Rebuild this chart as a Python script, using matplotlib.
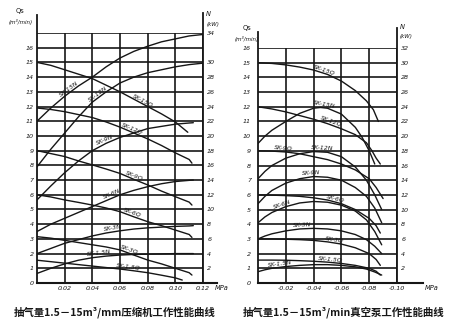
import numpy as np
import matplotlib
matplotlib.use('Agg')
import matplotlib.pyplot as plt

plt.rcParams['font.family'] = ['DejaVu Sans']
INK = '#161616'
CJK = ['Noto Sans CJK SC', 'DejaVu Sans']

# ---------------- compressor panel (left) ----------------
comp_title = '抽气量1.5－15m³/mm压缩机工作性能曲线'
comp_xticks = [0.02, 0.04, 0.06, 0.08, 0.10, 0.12]
comp_xlabels = ['0.02', '0.04', '0.06', '0.08', '0.10', '0.12']
comp_qticks = list(range(0, 18))
comp_qlabels = [str(v) for v in range(0, 17)] + ['']
comp_nticks = [2, 4, 6, 8, 10, 12, 14, 16, 18, 20, 22, 24, 26, 28, 30, 34]

comp_q15_x = [0, .01, .02, .03, .04, .05, .06, .07, .08, .09, .10, .109]
comp_q15 = [15.0, 14.8, 14.5, 14.2, 13.9, 13.45, 13.0, 12.5, 12.0, 11.5, 10.95, 10.25]
comp_q_x = [0, .01, .02, .03, .04, .05, .06, .07, .08, .09, .10, .11, .112]
comp_q12 = [11.9, 11.8, 11.65, 11.45, 11.25, 10.95, 10.6, 10.2, 9.8, 9.35, 8.85, 8.4, 8.15]
comp_q9 = [9.0, 8.8, 8.6, 8.3, 8.03, 7.75, 7.45, 7.05, 6.67, 6.25, 5.87, 5.5, 5.3]
comp_q6 = [6.0, 5.85, 5.65, 5.48, 5.3, 5.1, 4.85, 4.5, 4.17, 3.9, 3.6, 3.3, 3.1]
comp_q3 = [3.15, 3.05, 2.9, 2.75, 2.6, 2.45, 2.25, 1.9, 1.56, 1.3, 1.0, 0.7, 0.54]
comp_q1_x = [0, .01, .02, .03, .04, .05, .06, .07, .08, .09, .10, .105]
comp_q1 = [1.55, 1.45, 1.35, 1.25, 1.15, 1.05, 0.95, 0.83, 0.7, 0.53, 0.35, 0.2]

comp_nl_x = [0, .01, .02, .03, .04, .05, .06, .07, .08, .09, .10, .11, .12]
comp_n15 = [11.0, 11.9, 12.7, 13.4, 14.0, 14.7, 15.3, 15.75, 16.1, 16.4, 16.6, 16.8, 16.9]
comp_n12 = [7.9, 9.1, 10.2, 11.3, 12.3, 13.0, 13.6, 14.0, 14.3, 14.5, 14.7, 14.85, 14.95]
comp_ns_x = [0, .01, .02, .03, .04, .05, .06, .07, .08, .09, .10, .11, .113]
comp_n9 = [5.65, 6.6, 7.5, 8.3, 9.0, 9.5, 9.9, 10.2, 10.5, 10.65, 10.8, 10.88, 10.9]
comp_n6 = [3.5, 4.0, 4.4, 4.8, 5.2, 5.6, 6.0, 6.3, 6.55, 6.75, 6.9, 6.98, 7.0]
comp_n3 = [2.0, 2.35, 2.7, 2.95, 3.2, 3.4, 3.55, 3.67, 3.75, 3.8, 3.85, 3.88, 3.9]
comp_n1 = [0.65, 1.0, 1.3, 1.55, 1.72, 1.83, 1.9, 1.94, 1.96, 1.98, 2.0, 2.0, 2.0]

# ---------------- vacuum pump panel (right) ----------------
vac_title = '抽气量1.5－15m³/min真空泵工作性能曲线'
vac_xticks = [-0.02, -0.04, -0.06, -0.08, -0.10]
vac_xlabels = ['-0.02', '-0.04', '-0.06', '-0.08', '-0.10']
vac_qticks = list(range(0, 17))
vac_nticks = list(range(2, 34, 2))

vac_q15_x = [0, -.01, -.02, -.03, -.04, -.05, -.06, -.07, -.078, -.083, -.0866]
vac_q15 = [15.0, 14.95, 14.85, 14.7, 14.5, 14.2, 13.75, 13.1, 12.4, 11.8, 11.0]
vac_q12_x = [0, -.01, -.02, -.03, -.04, -.05, -.06, -.07, -.078, -.082, -.085, -.088]
vac_q12 = [12.0, 11.85, 11.65, 11.4, 11.15, 10.85, 10.5, 10.1, 9.55, 9.0, 8.5, 8.1]
vac_n15_x = [0, -.005, -.01, -.02, -.03, -.04, -.045, -.05, -.06, -.07, -.075, -.08, -.084]
vac_n15 = [9.5, 10.0, 10.4, 11.0, 11.55, 11.9, 11.95, 11.9, 11.5, 10.6, 9.9, 9.0, 8.1]
vac_q9_x = [0, -.01, -.02, -.03, -.04, -.05, -.06, -.07, -.08, -.085, -.09]
vac_q9 = [9.0, 8.98, 8.92, 8.8, 8.6, 8.4, 8.1, 7.7, 7.1, 6.5, 5.75]
vac_arch_x = [0, -.005, -.01, -.02, -.03, -.04, -.05, -.06, -.07, -.078, -.084, -.089]
vac_n12 = [7.1, 7.6, 8.0, 8.5, 8.8, 8.95, 8.9, 8.6, 7.9, 7.0, 6.0, 5.0]
vac_n9 = [5.4, 5.9, 6.3, 6.8, 7.1, 7.25, 7.2, 7.0, 6.5, 5.9, 5.1, 4.1]
vac_n6 = [4.1, 4.5, 4.8, 5.2, 5.45, 5.55, 5.5, 5.3, 4.9, 4.3, 3.5, 2.6]
vac_n3 = [3.0, 3.2, 3.35, 3.55, 3.68, 3.72, 3.68, 3.55, 3.3, 2.95, 2.5, 2.0]
vac_n1 = [0.77, 0.9, 1.0, 1.12, 1.2, 1.25, 1.25, 1.2, 1.1, 0.95, 0.75, 0.54]
vac_q_x = [0, -.01, -.02, -.03, -.04, -.05, -.06, -.07, -.08, -.085, -.088]
vac_q6 = [6.0, 5.98, 5.95, 5.9, 5.8, 5.65, 5.4, 5.0, 4.4, 3.9, 3.4]
vac_q3 = [3.0, 3.0, 2.98, 2.95, 2.9, 2.8, 2.65, 2.4, 2.0, 1.6, 1.2]
vac_q1 = [1.56, 1.56, 1.55, 1.52, 1.48, 1.42, 1.33, 1.2, 1.0, 0.8, 0.54]

# (x, y, label, where the label sits)
comp_curves = [
    (comp_q15_x, comp_q15, 'SK-15Q', 0.076),
    (comp_q_x, comp_q12, 'SK-12Q', 0.068),
    (comp_q_x, comp_q9, 'SK-9Q', 0.07),
    (comp_q_x, comp_q6, 'SK-6Q', 0.068),
    (comp_q_x, comp_q3, 'SK-3Q', 0.066),
    (comp_q1_x, comp_q1, 'SK-1.5Q', 0.066),
    (comp_nl_x, comp_n15, 'SK-15N', 0.024),
    (comp_nl_x, comp_n12, 'SK-12N', 0.045),
    (comp_ns_x, comp_n9, 'SK-9N', 0.05),
    (comp_ns_x, comp_n6, 'SK-6N', 0.055),
    (comp_ns_x, comp_n3, 'SK-3N', 0.055),
    (comp_ns_x, comp_n1, 'SK-1.5N', 0.045),
]
vac_curves = [
    (vac_q15_x, vac_q15, 'SK-15Q', -0.047),
    (vac_q12_x, vac_q12, 'SK-12Q', -0.052),
    (vac_n15_x, vac_n15, 'SK-15N', -0.047),
    (vac_q9_x, vac_q9, 'SK-9Q', -0.018),
    (vac_arch_x, vac_n12, 'SK-12N', -0.046),
    (vac_arch_x, vac_n9, 'SK-9N', -0.038),
    (vac_q_x, vac_q6, 'SK-6Q', -0.055),
    (vac_arch_x, vac_n6, 'SK-6N', -0.018),
    (vac_arch_x, vac_n3, 'SK-3N', -0.032),
    (vac_q_x, vac_q3, 'SK-3Q', -0.055),
    (vac_arch_x, vac_n1, 'SK-1.5N', -0.016),
    (vac_q_x, vac_q1, 'SK-1.5Q', -0.052),
]


def tag(ax, xs, ys, text, at):
    xs = np.asarray(xs, float)
    ys = np.asarray(ys, float)
    order = np.argsort(xs)
    dx = 0.004 if at > 0 else -0.004
    y0 = np.interp(at, xs[order], ys[order])
    y1 = np.interp(at + dx, xs[order], ys[order])
    p0 = ax.transData.transform((at, y0))
    p1 = ax.transData.transform((at + dx, y1))
    ang = np.degrees(np.arctan2(p1[1] - p0[1], p1[0] - p0[0]))
    if ang > 90:
        ang -= 180
    if ang < -90:
        ang += 180
    ax.text(at, y0 + 0.08, text, rotation=ang, rotation_mode='anchor',
            ha='center', va='bottom', fontsize=4.5, style='italic', color=INK)


def panel(ax, xlim, ylim, xticks, xlabels, qticks, qlabels, nticks,
          spine_tops, axis_ext, mpa_pos, qs_pos, n_pos):
    ax.set_xlim(*xlim)
    ax.set_ylim(*ylim)
    ax.set_xticks(xticks)
    ax.set_xticklabels(xlabels)
    ax.set_yticks(qticks)
    ax.set_yticklabels(qlabels)
    ax.grid(True, color=INK, lw=1.2)
    for s in ax.spines.values():
        s.set_visible(False)
    ax.tick_params(length=0, labelsize=4.6, colors=INK, pad=2.5)
    for lab in ax.get_xticklabels() + ax.get_yticklabels():
        lab.set_fontstyle('italic')
    ax.axvline(xlim[0], ymin=0, ymax=spine_tops[0], color=INK, lw=1.3, clip_on=False)
    ax.axvline(xlim[1], ymin=0, ymax=spine_tops[1], color=INK, lw=1.3, clip_on=False)
    ax.axhline(0, xmin=0, xmax=axis_ext, color=INK, lw=1.5, clip_on=False)

    sec = ax.secondary_yaxis('right', functions=(lambda q: q * 2, lambda n: n / 2))
    sec.set_yticks(nticks)
    sec.tick_params(length=0, labelsize=4.6, colors=INK, pad=3)
    sec.spines['right'].set_visible(False)
    for lab in sec.get_yticklabels():
        lab.set_fontstyle('italic')

    ax.text(mpa_pos[0], mpa_pos[1], 'MPa', transform=ax.transAxes, fontsize=4.8,
            style='italic', color=INK, ha='center', va='top')
    ax.text(qs_pos[0], qs_pos[1], 'Qs', transform=ax.transAxes, fontsize=4.8,
            color=INK, ha='center', va='center')
    ax.text(qs_pos[0], qs_pos[1] - 0.045, '(m³/min)', transform=ax.transAxes,
            fontsize=4.0, style='italic', color=INK, ha='center', va='center')
    ax.text(n_pos[0], n_pos[1], 'N', transform=ax.transAxes, fontsize=4.8,
            style='italic', color=INK, ha='left', va='center')
    ax.text(n_pos[0], n_pos[1] - 0.04, '(kW)', transform=ax.transAxes,
            fontsize=4.0, style='italic', color=INK, ha='left', va='center')


fig = plt.figure(figsize=(4.6, 3.27), dpi=100)
fig.patch.set_facecolor('white')

ax1 = fig.add_axes([37 / 460, 44 / 327, 166 / 460, 250 / 327])
panel(ax1, (0, 0.12), (0, 17), comp_xticks, comp_xlabels, comp_qticks, comp_qlabels,
      comp_nticks, (1.072, 1.08), 1.085, (1.11, -0.008), (-0.1, 1.09), (1.02, 1.075))
for xs, ys, name, at in comp_curves:
    ax1.plot(xs, ys, color=INK, lw=1.0, solid_capstyle='round')
    tag(ax1, xs, ys, name, at)

ax2 = fig.add_axes([258 / 460, 44 / 327, 139 / 460, 235 / 327])
panel(ax2, (0, -0.10), (0, 16), vac_xticks, vac_xlabels, vac_qticks,
      [str(v) for v in vac_qticks], vac_nticks, (1.068, 1.085), 1.19,
      (1.25, -0.008), (-0.08, 1.085), (1.02, 1.09))
ax2.tick_params(axis='y', pad=5)
for xs, ys, name, at in vac_curves:
    ax2.plot(xs, ys, color=INK, lw=1.0, solid_capstyle='round')
    tag(ax2, xs, ys, name, at)

fig.text(115 / 460, 1 - 312 / 327, comp_title, family=CJK, fontsize=7.5,
         fontweight='bold', color=INK, ha='center', va='center')
fig.text(344 / 460, 1 - 312 / 327, vac_title, family=CJK, fontsize=7.5,
         fontweight='bold', color=INK, ha='center', va='center')

fig.savefig('out.png', dpi=100)
